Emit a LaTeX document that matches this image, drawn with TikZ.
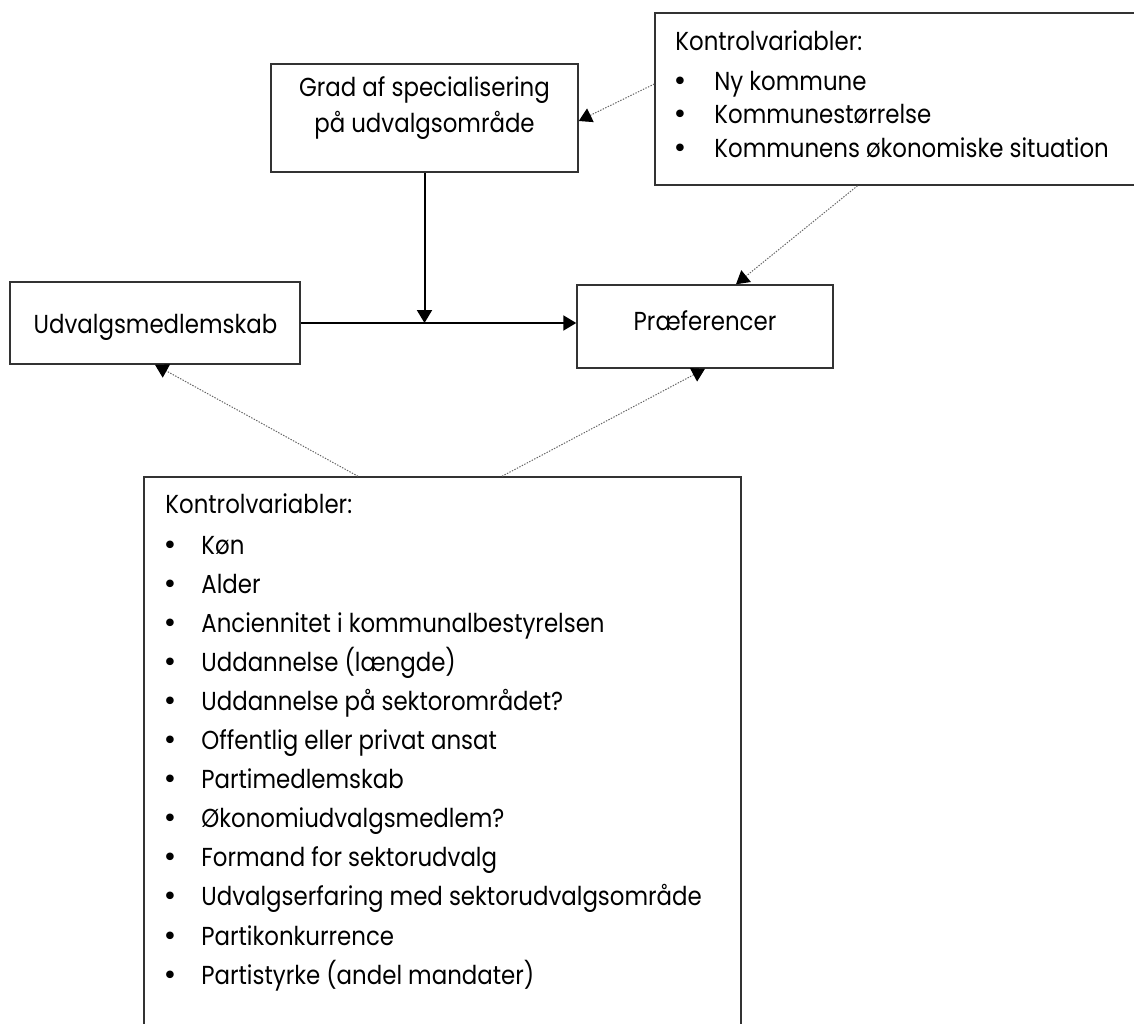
\documentclass[tikz,border=0pt]{standalone}
\usepackage{fontspec}
\setmainfont[FakeStretch=0.88]{Poppins}
\newfontfamily\bulletfont{DejaVu Sans}
\usetikzlibrary{arrows.meta}
\begin{document}
\begin{tikzpicture}[x=0.5pt,y=-0.5pt,
  box/.style={draw=black!80, line width=0.75pt, inner sep=0pt, rectangle},
  txt/.style={font=\fontsize{13}{15}\selectfont, inner sep=0pt},
  bul/.style={font=\bulletfont\fontsize{13}{15}\selectfont, inner sep=0pt},
  solidarrow/.style={line width=1pt, -{Triangle[length=6.5pt,width=7.5pt]}},
  ctrlarrow/.style={draw=black!60, line width=0.5pt, dash pattern=on 0.7pt off 0.7pt,
     -{Triangle[length=6.5pt,width=7.5pt,color=black]}},
]
\useasboundingbox (0,0) rectangle (1134,1023);
\clip (0,0) rectangle (1134,1023);

% boxes
\node[box, minimum width=153.5pt, minimum height=54pt] (grad) at (424.5,118) {};
\node[box, minimum width=242.5pt, minimum height=86pt] (tr) at (897.5,99) {};
\node[box, minimum width=145pt, minimum height=41pt] (udv) at (155,323) {};
\node[box, minimum width=128pt, minimum height=41.5pt] (pref) at (705,326.5) {};
\node[box, minimum width=298.5pt, minimum height=291.5pt] (bot) at (442.5,768.5) {};

% texts
\node[txt, anchor=base] (g1) at (424.5,96) {Grad af specialisering};
\node[txt, anchor=base] (g2) at (424.5,132) {på udvalgsområde};
\node[txt, anchor=base] (u1) at (155.5,333) {Udvalgsmedlemskab};
\node[txt, anchor=base] (p1) at (705,330) {Præferencer};

\node[txt, anchor=base west] (trh) at (675,50) {Kontrolvariabler:};
\foreach \t [count=\i] in {Ny kommune, Kommunestørrelse, Kommunens økonomiske situation}{
  \node[bul, anchor=base] (trb\i) at (680,{90+33.5*(\i-1)}) {•};
  \node[txt, anchor=base west] (tri\i) at (714,{90+33.5*(\i-1)}) {\t};
}

\node[txt, anchor=base west] (boh) at (165,513) {Kontrolvariabler:};
\foreach \t [count=\i] in {Køn, Alder, Anciennitet i kommunalbestyrelsen, Uddannelse (længde),
  Uddannelse på sektorområdet?, Offentlig eller privat ansat, Partimedlemskab,
  Økonomiudvalgsmedlem?, Formand for sektorudvalg, Udvalgserfaring med sektorudvalgsområde,
  Partikonkurrence, Partistyrke (andel mandater)}{
  \node[bul, anchor=base] (bob\i) at (170,{554+39.1*(\i-1)}) {•};
  \node[txt, anchor=base west] (boi\i) at (201,{554+39.1*(\i-1)}) {\t};
}

% connectors
\coordinate (j) at (grad.south |- udv.east);
\draw[solidarrow] (grad.south) -- (j);
\draw[solidarrow] (udv.east) -- (pref.west |- udv.east);
\draw[ctrlarrow] ([yshift=7.5pt]tr.west) -- ([yshift=-1.5pt]grad.east);
\draw[ctrlarrow] ([xshift=-20pt]tr.south) -- ([xshift=15.5pt]pref.north);
\draw[ctrlarrow] ([xshift=-42.25pt]bot.north) -- (udv.south);
\draw[ctrlarrow] ([xshift=29.75pt]bot.north) -- (pref.south);
\end{tikzpicture}
\end{document}
